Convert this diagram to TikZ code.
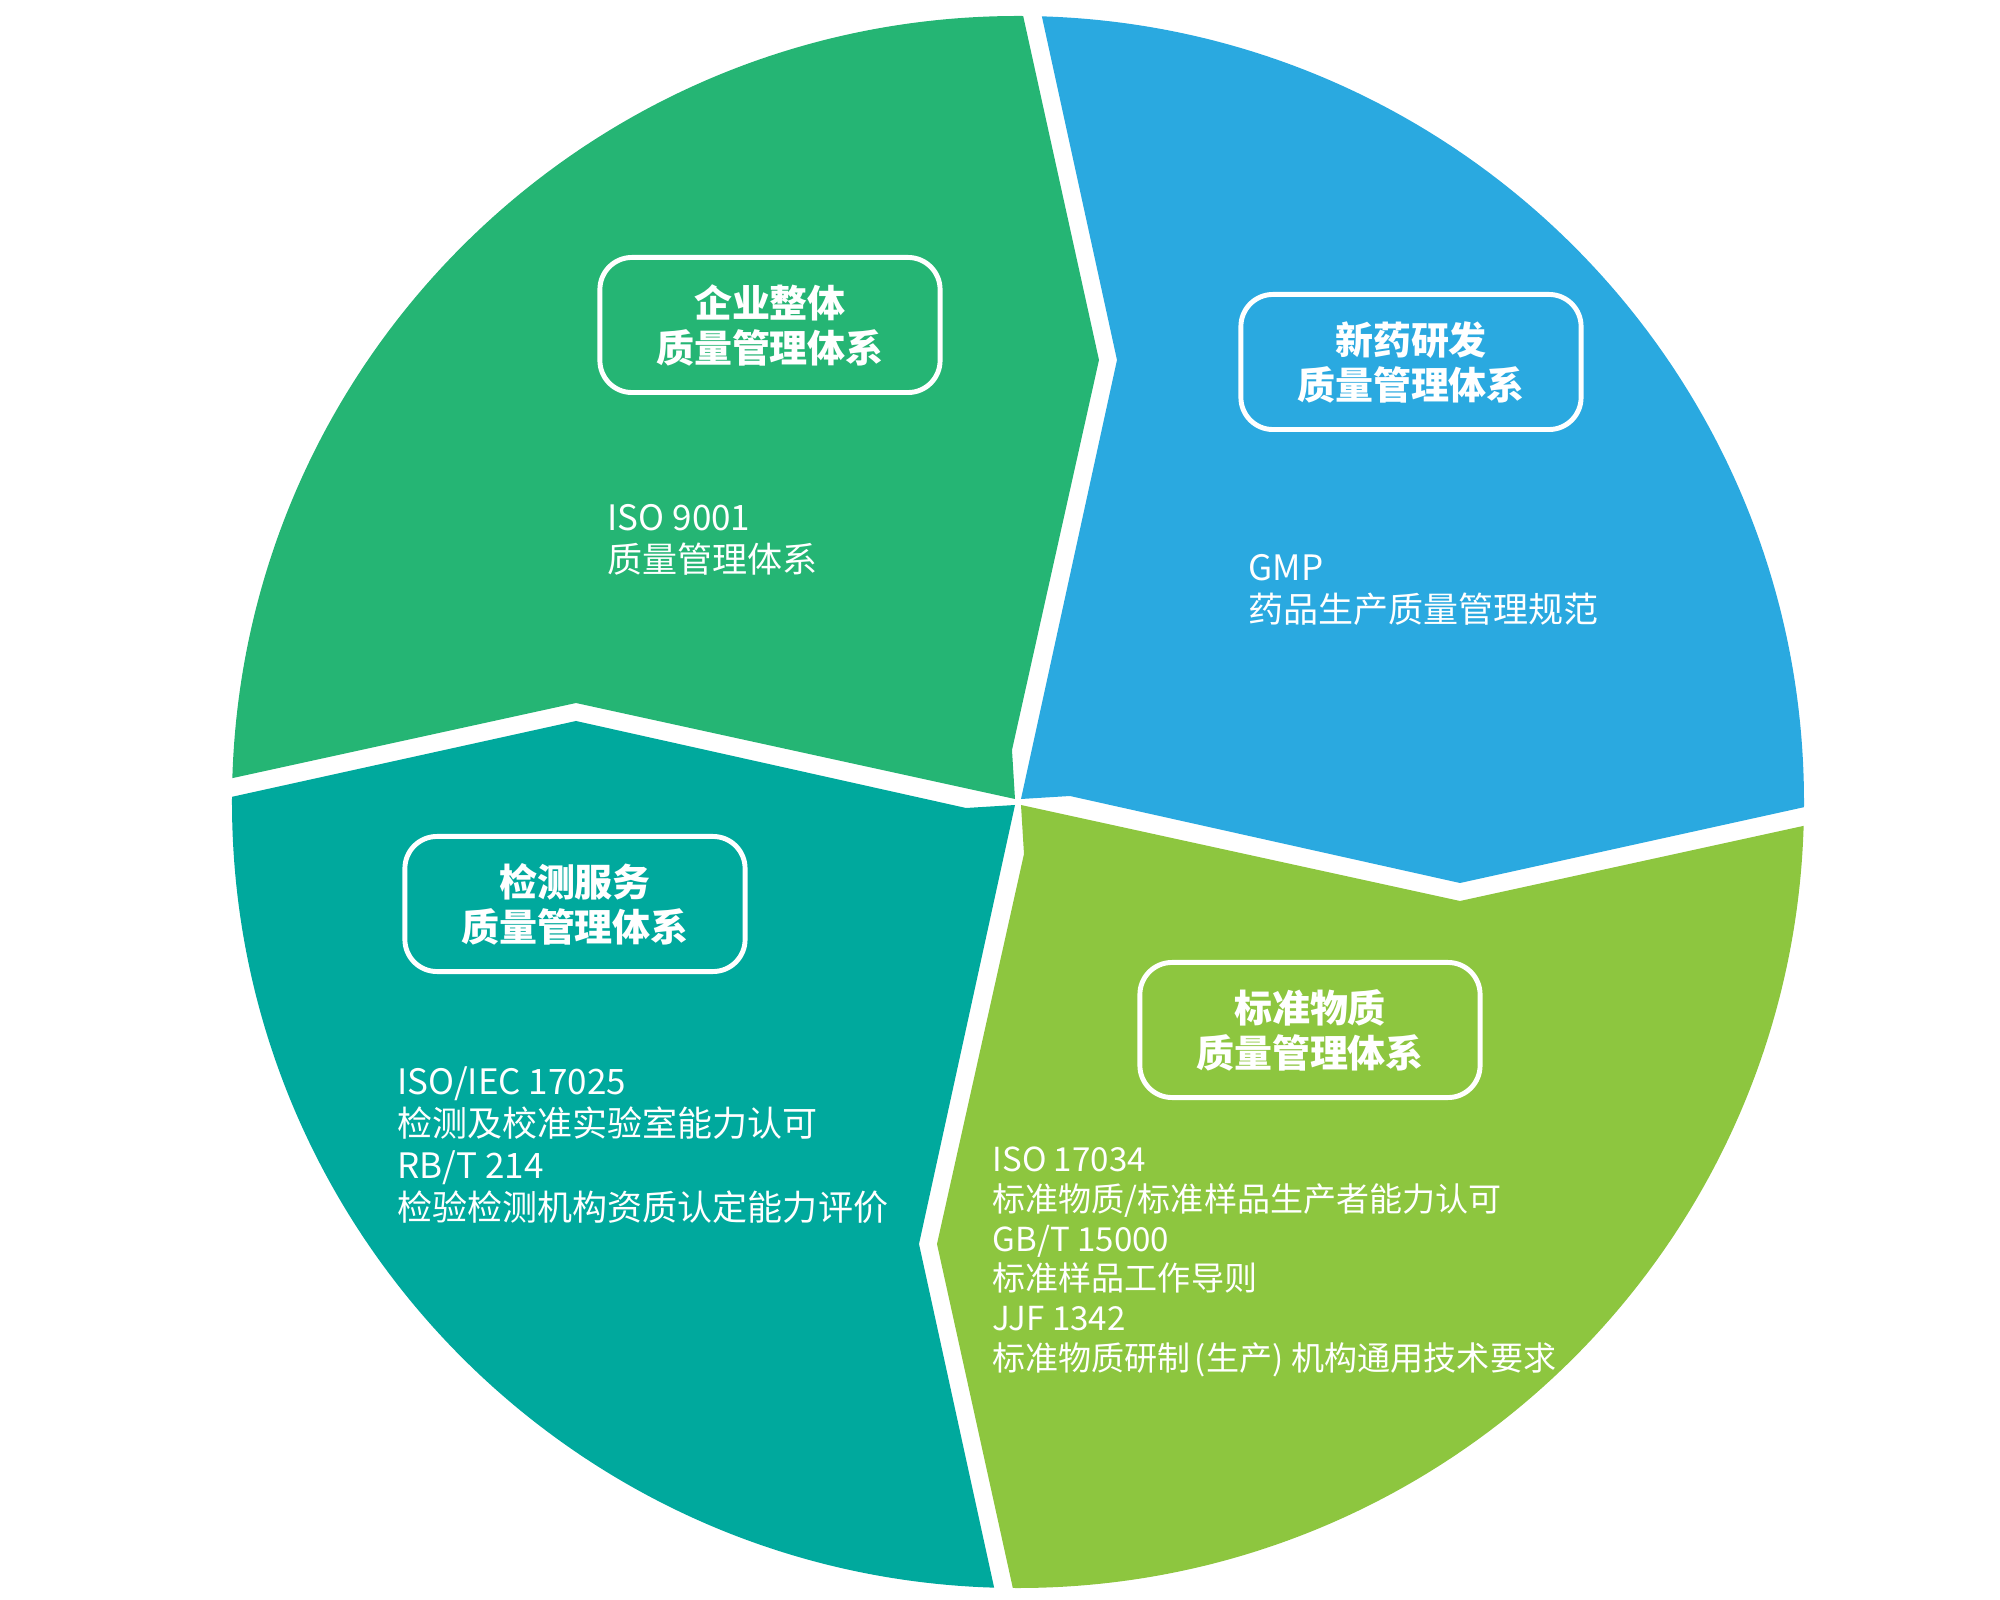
\documentclass[tikz,border=0pt]{standalone}
\usepackage{fontspec}
\setmainfont{Noto Sans CJK SC}
\usepackage{xcolor}
\usepackage{tikz}
\definecolor{corp}{HTML}{25B574}
\definecolor{drug}{HTML}{2AA9E0}
\definecolor{refm}{HTML}{8DC63F}
\definecolor{test}{HTML}{00A99D}

\begin{document}
\begin{tikzpicture}[x=0.01cm,y=0.01cm,
  lbl/.style={draw=white,line width=1.4pt,rounded corners=0.32cm,minimum width=3.4cm,minimum height=1.35cm,
    align=center,text=white,font=\bfseries\fontsize{10.8pt}{12.8pt}\selectfont},
  txt/.style={anchor=west,inner sep=0pt,align=left,text=white,font=\fontsize{9.96pt}{11.95pt}\selectfont},
  txs/.style={txt,font=\fontsize{9.4pt}{11.32pt}\selectfont},
]
\useasboundingbox (-1018,-798) rectangle (982,802);

% four sectors, one shape turned clockwise
\begin{scope}
\clip (0,0) circle (786);
\foreach \ang/\col in {0/corp,-90/drug,-180/refm,90/test}
  \fill[\col,rotate=\ang] (-3,3) -- (-442,99) -- (-1000,-23) -- (-1000,1000)
    -- (-42,1000) -- (81,442) -- (-6,52) -- cycle;
\end{scope}

% top left: whole company
\node[lbl] (corpbx) at (-248,477) {企业整体\\质量管理体系};
\node[txt] (corptx) at (-411,262) {ISO 9001\\质量管理体系};

% top right: new drugs
\node[lbl] (drugbx) at (393,440) {新药研发\\质量管理体系};
\node[txt] (drugtx) at (230,212) {GMP\\药品生产质量管理规范};

% bottom left: testing
\node[lbl] (testbx) at (-443,-102) {检测服务\\质量管理体系};
\node[txt] (testtx) at (-621,-343) {ISO/IEC 17025\\检测及校准实验室能力认可\\RB/T 214\\检验检测机构资质认定能力评价};

% bottom right: reference materials
\node[lbl] (refmbx) at (292,-228) {标准物质\\质量管理体系};
\node[txs] (refmtx) at (-26,-460) {ISO 17034\\标准物质/标准样品生产者能力认可\\GB/T 15000\\标准样品工作导则\\JJF 1342\\标准物质研制\hspace{0.12em}(生产)\hspace{0.25em}机构通用技术要求};
\end{tikzpicture}
\end{document}
